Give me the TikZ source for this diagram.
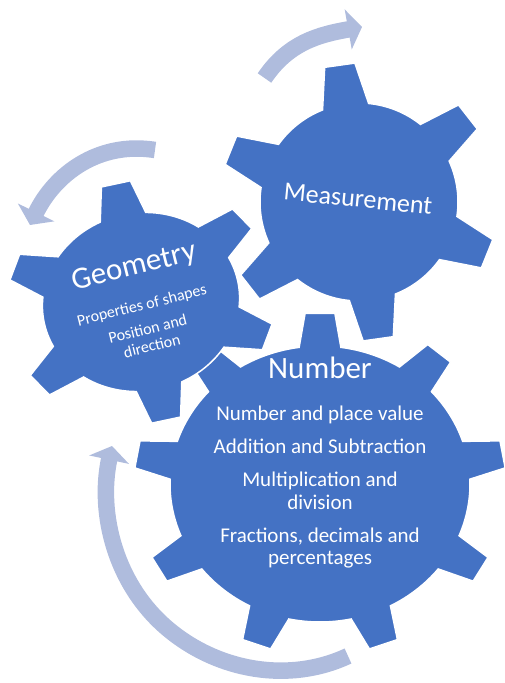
\documentclass[tikz,border=0pt]{standalone}
\usepackage{fontspec}
\setmainfont{Carlito}
\usepackage{xcolor}
\usepackage{tikz}
\usetikzlibrary{arrows.meta}
\usetikzlibrary{calc}

\definecolor{gearblue}{HTML}{4472C4}
\definecolor{turnblue}{HTML}{AFBCDD}

\tikzset{
	cog/.style       = {fill=gearblue, draw=white, line width=1.5pt},
	turnarrow/.style = {draw=turnblue, line width=16.5pt,
		-{Triangle[width=40pt, length=14pt]}},
	cogtext/.style   = {text=white, align=center, inner sep=0pt}
}

% #1 centre, #2 teeth, #3 turn, #4 y-scale, #5 body radius, #6 tip radius,
% #7 half angle at base, #8 half angle at tip
\newcommand{\cog}[8]{%
	\begin{scope}[shift={(#1)}, rotate=#3, yscale=#4]
		\filldraw[cog] (90-#7:#5)
		foreach \k in {1,...,#2} {
			-- ({90+360/#2*(\k-1)-#8}:#6) -- ({90+360/#2*(\k-1)+#8}:#6)
			-- ({90+360/#2*(\k-1)+#7}:#5)
			arc[start angle={90+360/#2*(\k-1)+#7}, end angle={90+360/#2*\k-#7}, radius=#5]
		} -- cycle;
	\end{scope}}

\begin{document}
\begin{tikzpicture}[x=1pt, y=1pt]
\useasboundingbox (0,0) rectangle (504,683);

\coordinate (cN) at (320,199);
\coordinate (cM) at (359,481);
\coordinate (cG) at (141,381);

% turning arrows
\coordinate (tailM) at (264.5,605);
\coordinate (tipM)  at (362,656);
\coordinate (tailG) at (155,533);
\coordinate (tipG)  at (30,458);
\coordinate (tailN) at (348,27);
\coordinate (midN)  at (168,54);
\coordinate (tipN)  at (112,237);
\draw[turnarrow] (tailM) to[out=56, in=190] (tipM);
\draw[turnarrow] (tailG) to[out=171, in=64] (tipG);
\draw[turnarrow] (tailN) to[out=205, in=-40, looseness=0.92] (midN)
	to[out=140, in=-102, looseness=0.92] (tipN);

% gears, back to front
\cog{cN}{9}{0}{0.92}{150}{186}{8}{4.6}
\cog{cM}{6}{8}{1}{99}{139}{13.6}{6.3}
\cog{cG}{6}{12}{0.9}{99}{135}{13.6}{6.3}

\node[cogtext, font=\fontsize{31}{37}\selectfont, anchor=base] (numtitle) at (320,304) {Number};
\node[cogtext, font=\fontsize{21}{22.5}\selectfont, anchor=north] (numlist) at (320,277)
	{Number and place value\\[10.5pt] Addition and Subtraction\\[10.5pt]
	 Multiplication and\\ division\\[10.5pt] Fractions, decimals and\\ percentages};

\node[cogtext, font=\fontsize{26}{31}\selectfont, rotate=-5.7] (meastitle) at (358,484) {Measurement};

\begin{scope}[shift={(cG)}, rotate=14, transform shape]
	\node[cogtext, font=\fontsize{31}{37}\selectfont] (geotitle) at (2,35) {Geometry};
	\node[cogtext, font=\fontsize{16}{17.5}\selectfont] (geolist) at (0,-24)
		{Properties of shapes\\[7pt] Position and\\ direction};
\end{scope}
\end{tikzpicture}
\end{document}
